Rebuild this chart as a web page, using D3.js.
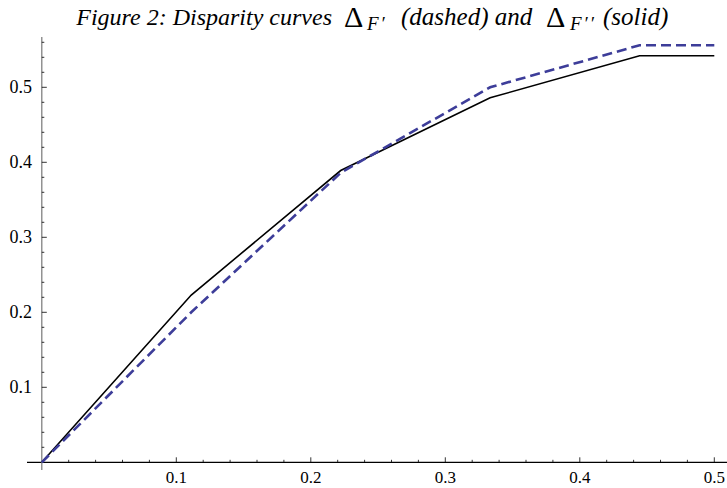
<!DOCTYPE html>
<html>
<head>
<meta charset="utf-8">
<script src="https://cdn.jsdelivr.net/npm/d3@7"></script>
<style>
  body { margin: 0; background: #fff; }
</style>
</head>
<body>
<svg id="chart" width="727" height="488" font-family="'Liberation Serif', 'Times New Roman', serif"></svg>
<script>
// sample points (x = k/9) and the two disparity curves
const xs = [0, 1/9, 2/9, 3/9, 4/9, 0.5];
const dashedVals = [0, 0.200, 0.386, 0.500, 0.556, 0.556];
const solidVals = [0, 0.223, 0.389, 0.486, 0.542, 0.542];
const tickVals = [0.1, 0.2, 0.3, 0.4, 0.5];
const minorTicks = d3.range(0.02, 0.57, 0.02);

const svg = d3.select("#chart");

const x = d3.scaleLinear().domain([0, 0.5]).range([41.8, 714.3]);
const y = d3.scaleLinear().domain([0, 0.5]).range([462.3, 87.3]);

// axes lines
svg.append("line")
  .attr("x1", 27).attr("x2", 727)
  .attr("y1", y(0)).attr("y2", y(0))
  .attr("stroke", "#000").attr("stroke-width", 1.2);
svg.append("line")
  .attr("x1", x(0)).attr("x2", x(0))
  .attr("y1", 37).attr("y2", 470)
  .attr("stroke", "#777").attr("stroke-width", 1.2);

const isMajor = d => Math.abs(d * 10 - Math.round(d * 10)) < 1e-6;

// x ticks
svg.append("g").selectAll("line").data(minorTicks.filter(d => d < 0.51 && !isMajor(d))).enter().append("line")
  .attr("x1", d => x(d)).attr("x2", d => x(d))
  .attr("y1", y(0)).attr("y2", y(0) - 2.5)
  .attr("stroke", "#000").attr("stroke-width", 0.8);
svg.append("g").selectAll("line").data(tickVals).enter().append("line")
  .attr("x1", d => x(d)).attr("x2", d => x(d))
  .attr("y1", y(0)).attr("y2", y(0) - 5)
  .attr("stroke", "#000").attr("stroke-width", 0.8);
svg.append("g").selectAll("text").data(tickVals).enter().append("text")
  .attr("x", d => x(d)).attr("y", 483)
  .attr("text-anchor", "middle")
  .attr("font-size", 17)
  .text(d => d3.format(".1f")(d));

// y ticks
svg.append("g").selectAll("line").data(minorTicks.filter(d => !isMajor(d))).enter().append("line")
  .attr("x1", x(0)).attr("x2", x(0) + 2.5)
  .attr("y1", d => y(d)).attr("y2", d => y(d))
  .attr("stroke", "#000").attr("stroke-width", 0.8);
svg.append("g").selectAll("line").data(tickVals).enter().append("line")
  .attr("x1", x(0)).attr("x2", x(0) + 5)
  .attr("y1", d => y(d)).attr("y2", d => y(d))
  .attr("stroke", "#000").attr("stroke-width", 0.8);
svg.append("g").selectAll("text").data(tickVals).enter().append("text")
  .attr("x", 32).attr("y", d => y(d) + 6)
  .attr("text-anchor", "end")
  .attr("font-size", 18)
  .text(d => d3.format(".1f")(d));

const line = d3.line().x((d, i) => x(xs[i])).y(d => y(d));

svg.append("path")
  .datum(solidVals)
  .attr("d", line)
  .attr("fill", "none")
  .attr("stroke", "#000")
  .attr("stroke-width", 1.6);

svg.append("path")
  .datum(dashedVals)
  .attr("d", line)
  .attr("fill", "none")
  .attr("stroke", "#3d3d99")
  .attr("stroke-width", 2.6)
  .attr("stroke-dasharray", "10,5");

// title, pieces placed where the reference has them
const title = svg.append("g").attr("font-style", "italic");
const tb = 25;
title.append("text").attr("x", 332).attr("y", tb).attr("text-anchor", "end")
  .attr("font-size", 24).text("Figure 2: Disparity curves");
title.append("text").attr("x", 344).attr("y", tb + 2).attr("font-style", "normal")
  .attr("font-size", 30).text("Δ");
title.append("text").attr("x", 367).attr("y", tb + 5).attr("font-size", 19)
  .attr("letter-spacing", 2).text("F′");
title.append("text").attr("x", 401).attr("y", tb).attr("font-size", 25).text("(dashed) and");
title.append("text").attr("x", 546).attr("y", tb + 2).attr("font-style", "normal")
  .attr("font-size", 30).text("Δ");
title.append("text").attr("x", 570).attr("y", tb + 5).attr("font-size", 19)
  .attr("letter-spacing", 2).text("F′′");
title.append("text").attr("x", 603).attr("y", tb).attr("font-size", 25).text("(solid)");
</script>
</body>
</html>
